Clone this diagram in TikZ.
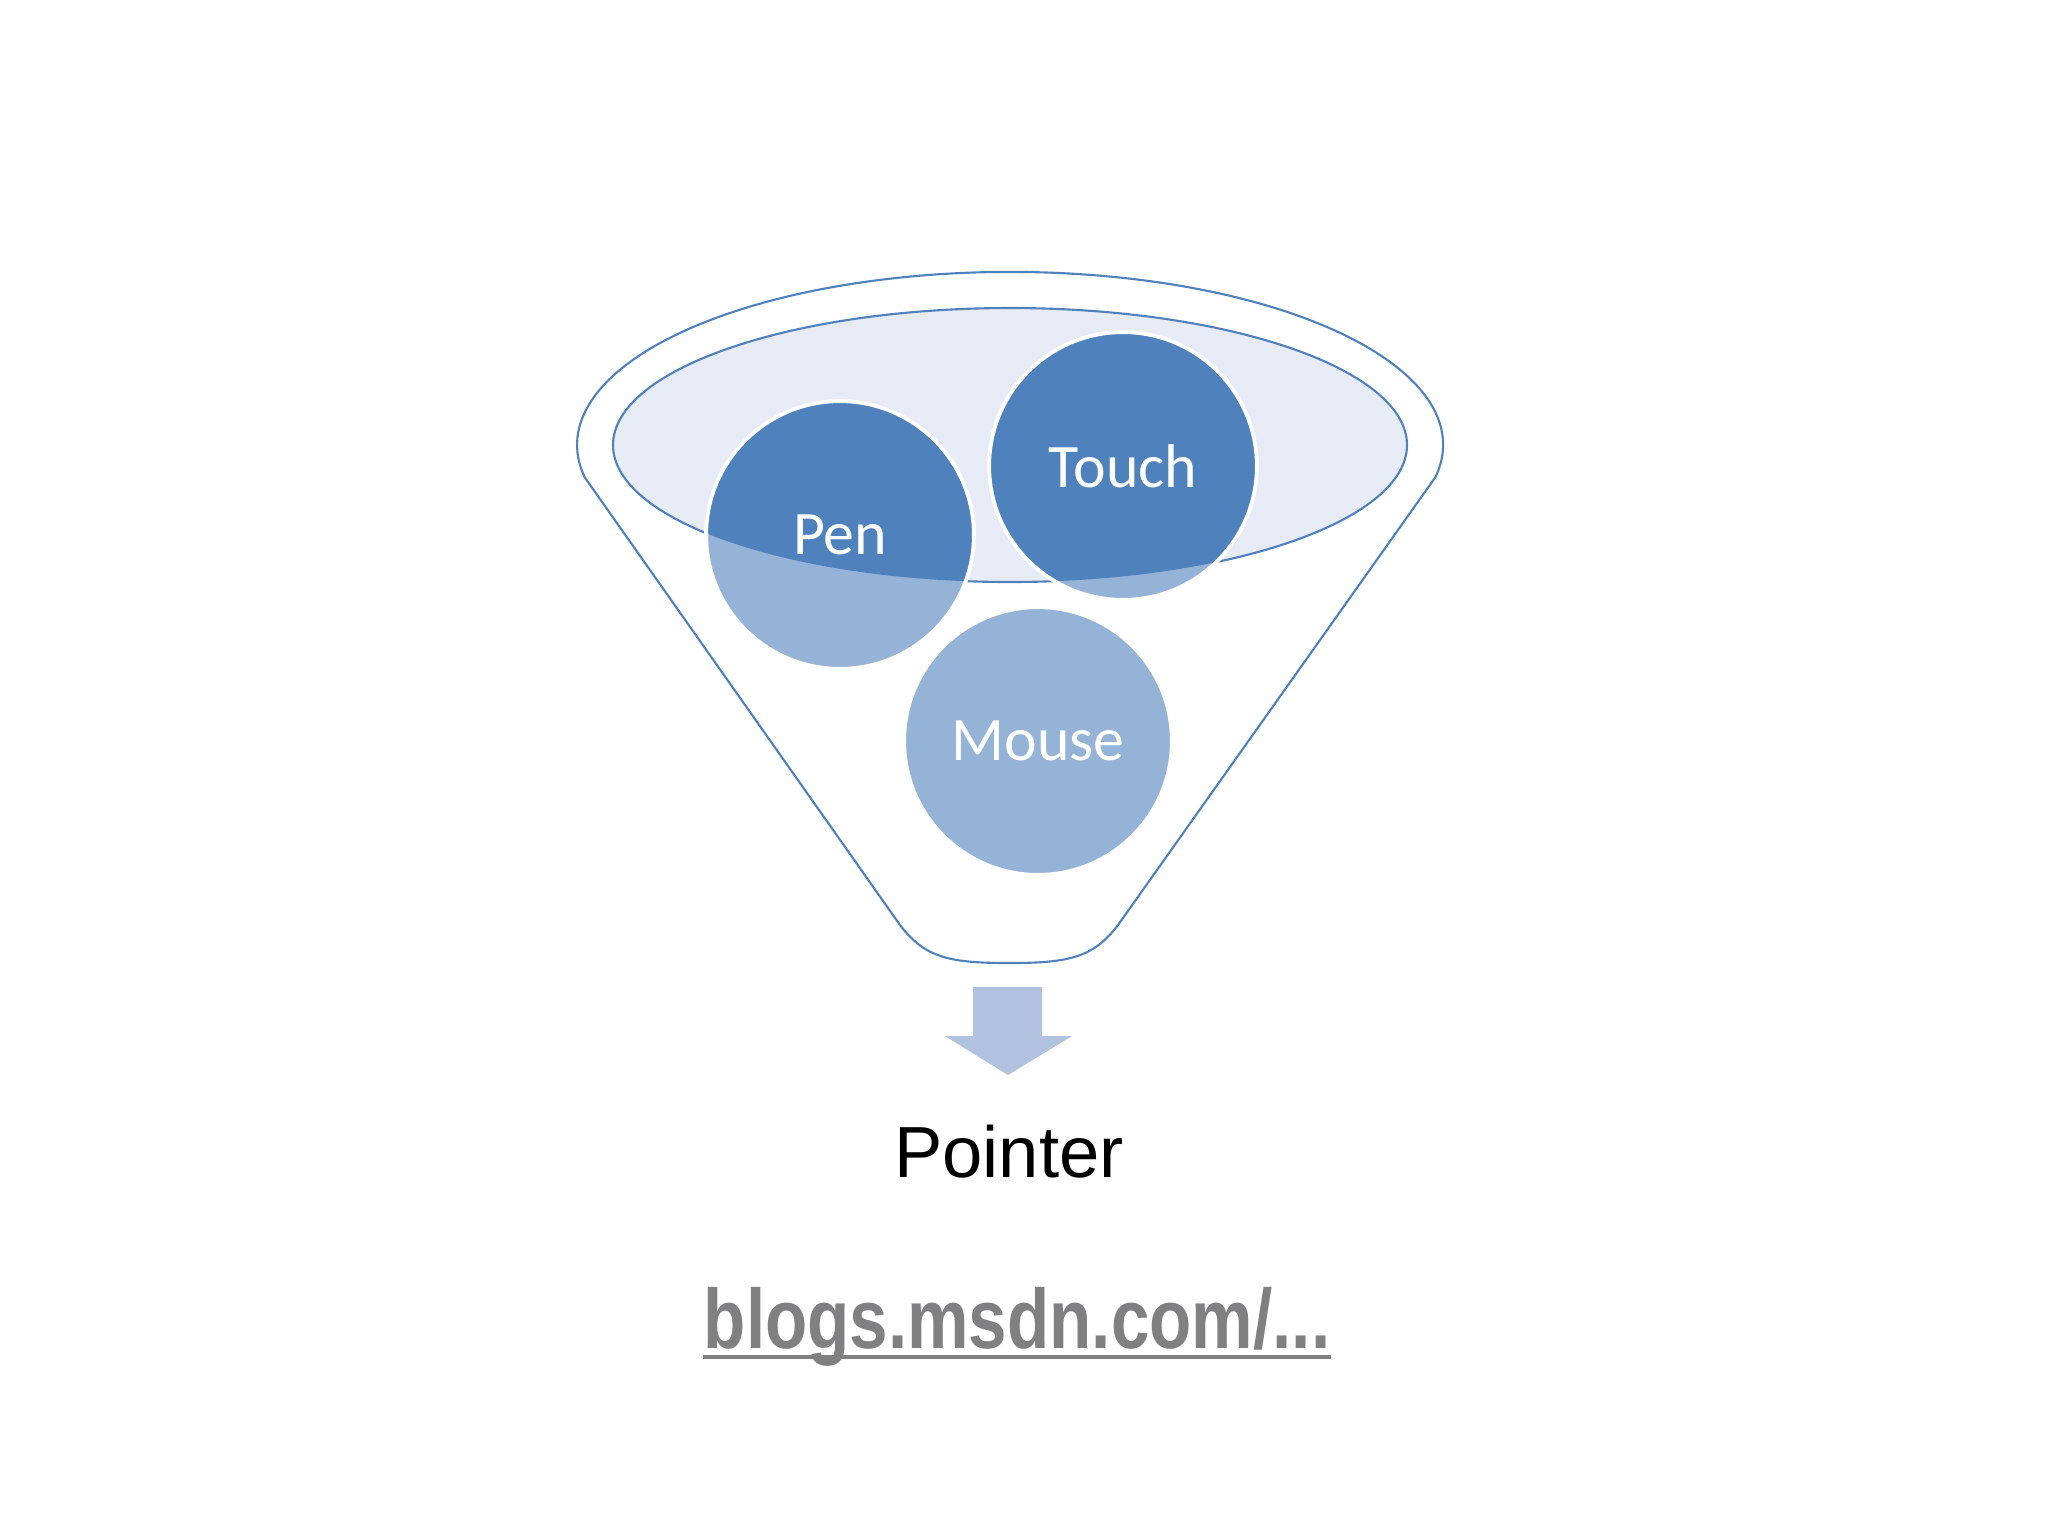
\documentclass[tikz,border=0pt]{standalone}
\usepackage{fontspec}
\usepackage{xcolor}
\usepackage{tikz}
\usetikzlibrary{positioning}
\newfontfamily\bubblefont{Carlito}
\newfontfamily\pointerfont{Liberation Sans}
\newfontfamily\urlfont[FakeStretch=0.82]{Liberation Sans}
\definecolor{rimblue}{RGB}{79,129,189}
\definecolor{darkblue}{RGB}{79,129,189}
\definecolor{paleblue}{RGB}{149,179,215}
\definecolor{cupfill}{RGB}{231,235,245}
\definecolor{flowblue}{RGB}{177,194,222}
\definecolor{urlgray}{RGB}{128,128,131}
\tikzset{funnel/.style={draw=rimblue, line width=0.6pt},
    cup/.style={draw=rimblue, fill=cupfill, line width=0.6pt}}

\begin{document}
\begin{tikzpicture} [x = 0.1mm, y = -0.1mm, bubble/.style = {circle, draw = white, line width = 1.1pt, minimum size = 76.2pt, inner sep = 0pt, text = white, font = \bubblefont\fontsize{17.6}{20}\selectfont}]
			\useasboundingbox (0,0) rectangle (2048,1536);
			\draw[funnel] (584.5,477) -- (900,925) .. controls (925,958) and (950,963) .. (1009,963) .. controls (1068,963) and (1093,958) .. (1118,925) -- (1435.5,477) arc[start angle = 10.7, end angle = -190.7, x radius = 433, y radius = 173];
			\filldraw[cup] (1010,445) ellipse[x radius = 397, y radius = 137];
			\foreach \x\y in {840/535, 1123/466, 1038/741} {
					\fill[paleblue] (\x,\y) circle[radius = 134];
				}
			\begin{scope}
				\clip (1010,445) ellipse[x radius = 397, y radius = 137];
				\foreach \x\y in {840/535, 1123/466} {
						\fill[darkblue] (\x,\y) circle[radius = 134];
					}
			\end{scope}
			\foreach \n\x\y in {Pen/840/535, Touch/1123/466, Mouse/1038/741} {
					\node[bubble] (\n) at (\x,\y) {\n};
				}
			\fill[flowblue] (973,987) -- (1042,987) -- (1042,1036) -- (1072,1036) -- (1008,1075) -- (945,1036) -- (973,1036) -- cycle;
			\node[anchor = base, inner sep = 0pt, font = \pointerfont\fontsize{20.6}{24}\selectfont] (Pointer) at (1009,1177) {Pointer};
			\node[anchor = base, inner sep = 0pt, text = urlgray, font = \urlfont\bfseries\fontsize{24}{28}\selectfont] (url) at (1017,1348) {blogs.msdn.com/...};
			\draw[urlgray, line width = 1.15pt] ([yshift = -2.6pt]url.base west) -- ([yshift = -2.6pt]url.base east);
		\end{tikzpicture}
\end{document}
